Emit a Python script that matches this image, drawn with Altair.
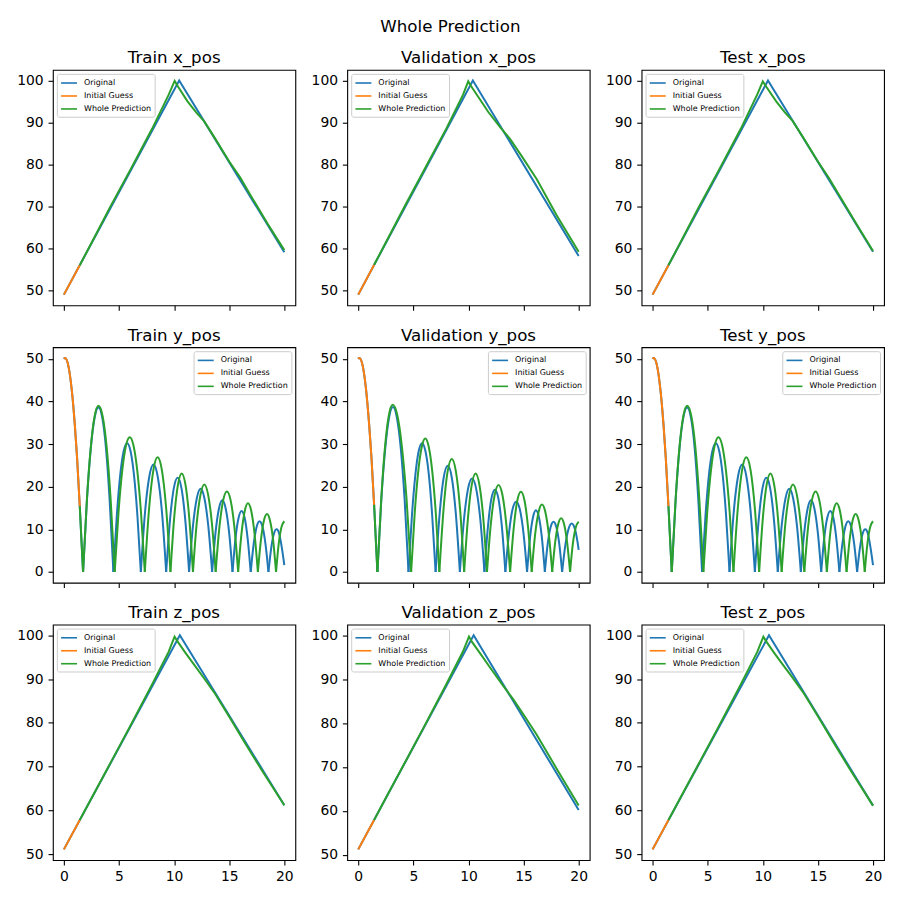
import altair as alt
import pandas as pd

FONT = "DejaVu Sans"
SERIES = ["Original", "Initial Guess", "Whole Prediction"]
COLORS = ["#1f77b4", "#ff7f0e", "#2ca02c"]
X_TICKS = [0, 5, 10, 15, 20]
POS_TICKS = [50, 60, 70, 80, 90, 100]
HEIGHT_TICKS = [0, 10, 20, 30, 40, 50]

# ---------------- x_pos ----------------
TRAIN_X_ORIG_T = [0.0, 10.46, 20.0]
TRAIN_X_ORIG_V = [49.0, 100.0, 59.1]
TRAIN_X_INIT_T = [0.0, 1.44]
TRAIN_X_INIT_V = [49.0, 56.0]
TRAIN_X_PRED_T = [1.44, 2.5, 4.2, 6.0, 8.0, 9.5, 10.05, 10.35, 11.2, 12.0, 12.7, 13.6,
                  15.0, 16.0, 17.0, 18.5, 20.0]
TRAIN_X_PRED_V = [56.0, 61.3, 69.9, 78.6, 88.5, 96.6, 99.9, 98.6, 95.1, 92.4, 90.4, 86.7,
                  80.7, 76.9, 72.4, 65.8, 59.6]

VAL_X_ORIG_T = [0.0, 10.4, 20.0]
VAL_X_ORIG_V = [49.0, 100.0, 58.2]
VAL_X_INIT_T = [0.0, 1.44]
VAL_X_INIT_V = [49.0, 56.1]
VAL_X_PRED_T = [1.44, 2.5, 4.2, 6.0, 8.0, 9.5, 9.98, 10.2, 11.2, 11.8, 12.87, 13.77,
                14.8, 16.2, 18.0, 20.0]
VAL_X_PRED_V = [56.1, 61.4, 70.0, 78.8, 88.6, 96.6, 99.8, 98.8, 94.9, 92.5, 88.9, 86.1,
                82.1, 76.5, 67.9, 59.2]

TEST_X_ORIG_T = [0.0, 10.47, 20.0]
TEST_X_ORIG_V = [49.0, 100.0, 59.2]
TEST_X_INIT_T = [0.0, 1.44]
TEST_X_INIT_V = [49.0, 56.0]
TEST_X_PRED_T = [1.44, 2.5, 4.2, 6.0, 8.0, 9.5, 10.0, 10.3, 11.2, 12.0, 12.7, 13.6,
                 15.0, 16.0, 17.0, 18.5, 20.0]
TEST_X_PRED_V = [56.0, 61.3, 69.9, 78.6, 88.5, 96.7, 99.8, 98.6, 95.1, 92.4, 90.4, 86.7,
                 80.7, 76.8, 72.4, 65.8, 59.4]

# ---------------- y_pos ----------------
TRAIN_Y_ORIG_T = [0.0, 0.1, 0.4, 0.7, 1.0, 1.2, 1.44, 1.6, 1.74,
                  2.09, 2.44, 2.79, 3.14, 3.48, 3.82, 4.15, 4.49,
                  4.80, 5.11, 5.42, 5.735, 6.05, 6.36, 6.67, 6.98,
                  7.36, 7.75, 8.13, 8.51, 8.90, 9.28,
                  9.63, 9.97, 10.32, 10.67, 11.01, 11.36,
                  11.71, 12.06, 12.40, 12.75, 13.10, 13.45,
                  13.76, 14.07, 14.37, 14.68, 14.99, 15.30,
                  15.57, 15.85, 16.12, 16.40, 16.67, 16.95,
                  17.22, 17.49, 17.75, 18.02, 18.29, 18.56,
                  18.81, 19.05, 19.30, 19.54, 19.78, 20.0]
TRAIN_Y_ORIG_V = [50.0, 50.2, 48.4, 43.0, 34.2, 26.6, 15.4, 7.0, 0.0,
                  16.9, 29.0, 36.2, 38.6, 36.2, 29.0, 16.9, 0.0,
                  13.2, 22.7, 28.3, 30.2, 28.3, 22.7, 13.2, 0.0,
                  14.0, 22.4, 25.2, 22.4, 14.0, 0.0,
                  12.3, 19.6, 22.1, 19.6, 12.3, 0.0,
                  10.8, 17.3, 19.5, 17.3, 10.8, 0.0,
                  9.3, 14.9, 16.8, 14.9, 9.3, 0.0,
                  7.9, 12.7, 14.3, 12.7, 7.9, 0.0,
                  6.6, 10.6, 11.9, 10.6, 6.6, 0.0,
                  5.6, 8.9, 10.0, 8.9, 5.6, 1.6]
TRAIN_Y_INIT_T = [0.0, 0.1, 0.4, 0.7, 1.0, 1.2, 1.44]
TRAIN_Y_INIT_V = [50.0, 50.2, 48.4, 43.0, 34.2, 26.6, 15.4]
TRAIN_Y_PRED_T = [1.44, 1.6, 1.74,
                  2.09, 2.44, 2.79, 3.14, 3.51, 3.88, 4.24, 4.61,
                  4.95, 5.29, 5.63, 5.975, 6.32, 6.66, 7.0, 7.34,
                  7.73, 8.12, 8.5, 8.89, 9.28, 9.67,
                  10.01, 10.35, 10.69, 11.03, 11.37, 11.71,
                  12.05, 12.40, 12.74, 13.08, 13.43, 13.77,
                  14.11, 14.45, 14.79, 15.13, 15.47, 15.81,
                  16.11, 16.41, 16.7, 17.0, 17.3, 17.6,
                  17.88, 18.15, 18.43, 18.7, 18.98, 19.25,
                  19.5, 19.75, 20.0]
TRAIN_Y_PRED_V = [15.4, 7.0, 0.0,
                  17.1, 29.3, 36.6, 39.0, 36.6, 29.3, 17.1, 0.0,
                  13.8, 23.7, 29.6, 31.6, 29.6, 23.7, 13.8, 0.0,
                  14.9, 23.9, 26.9, 23.9, 14.9, 0.0,
                  12.8, 20.5, 23.1, 20.5, 12.8, 0.0,
                  11.4, 18.2, 20.5, 18.2, 11.4, 0.0,
                  10.5, 16.8, 18.9, 16.8, 10.5, 0.0,
                  8.9, 14.3, 16.1, 14.3, 8.9, 0.0,
                  7.6, 12.1, 13.6, 12.1, 7.6, 0.0,
                  6.8, 10.6, 11.9]

VAL_Y_ORIG_T = [0.0, 0.1, 0.4, 0.7, 1.0, 1.2, 1.44, 1.6, 1.74,
                2.09, 2.45, 2.80, 3.15, 3.50, 3.86, 4.21, 4.56,
                4.87, 5.18, 5.48, 5.79, 6.10, 6.41, 6.71, 7.02,
                7.39, 7.75, 8.12, 8.49, 8.85, 9.22,
                9.59, 9.96, 10.33, 10.70, 11.08, 11.45,
                11.77, 12.08, 12.40, 12.72, 13.03, 13.35,
                13.68, 14.00, 14.33, 14.66, 14.99, 15.32,
                15.59, 15.86, 16.12, 16.39, 16.66, 16.93,
                17.19, 17.45, 17.72, 17.98, 18.24, 18.50,
                18.79, 19.08, 19.37, 19.66, 19.90, 20.0]
VAL_Y_ORIG_V = [50.0, 50.2, 48.4, 43.0, 34.2, 26.8, 15.75, 7.2, 0.0,
                16.9, 29.0, 36.3, 38.7, 36.3, 29.0, 16.9, 0.0,
                13.2, 22.7, 28.3, 30.2, 28.3, 22.7, 13.2, 0.0,
                13.8, 22.1, 24.9, 22.1, 13.8, 0.0,
                12.2, 19.5, 21.9, 19.5, 12.2, 0.0,
                10.7, 17.2, 19.3, 17.2, 10.7, 0.0,
                9.2, 14.7, 16.5, 14.7, 9.2, 0.0,
                8.1, 12.9, 14.5, 12.9, 8.1, 0.0,
                6.6, 10.5, 11.8, 10.5, 6.6, 0.0,
                6.3, 10.1, 11.4, 10.1, 7.0, 5.2]
VAL_Y_INIT_T = [0.0, 0.1, 0.4, 0.7, 1.0, 1.2, 1.44]
VAL_Y_INIT_V = [50.0, 50.2, 48.4, 43.0, 34.2, 26.8, 15.75]
VAL_Y_PRED_T = [1.44, 1.6, 1.74,
                2.09, 2.43, 2.78, 3.12, 3.54, 3.96, 4.38, 4.8,
                5.12, 5.44, 5.76, 6.08, 6.40, 6.72, 7.04, 7.36,
                7.74, 8.11, 8.49, 8.86, 9.24, 9.61,
                9.96, 10.30, 10.65, 10.99, 11.34, 11.68,
                12.03, 12.38, 12.73, 13.08, 13.43, 13.78,
                14.11, 14.43, 14.76, 15.09, 15.41, 15.74,
                16.05, 16.36, 16.67, 16.98, 17.29, 17.6,
                17.87, 18.14, 18.41, 18.68, 18.95, 19.22,
                19.47, 19.73, 20.0]
VAL_Y_PRED_V = [15.75, 7.2, 0.0,
                17.2, 29.4, 36.8, 39.2, 36.8, 29.4, 17.2, 0.0,
                13.7, 23.5, 29.3, 31.3, 29.3, 23.5, 13.7, 0.0,
                14.7, 23.6, 26.5, 23.6, 14.7, 0.0,
                12.8, 20.5, 23.1, 20.5, 12.8, 0.0,
                11.3, 18.1, 20.4, 18.1, 11.3, 0.0,
                10.4, 16.7, 18.8, 16.7, 10.4, 0.0,
                8.8, 14.0, 15.8, 14.0, 8.8, 0.0,
                7.0, 11.2, 12.6, 11.2, 7.0, 0.0,
                6.6, 10.4, 11.8]

# Test y_pos reads the same as Train y_pos
TEST_Y_ORIG_T, TEST_Y_ORIG_V = TRAIN_Y_ORIG_T, TRAIN_Y_ORIG_V
TEST_Y_INIT_T, TEST_Y_INIT_V = TRAIN_Y_INIT_T, TRAIN_Y_INIT_V
TEST_Y_PRED_T, TEST_Y_PRED_V = TRAIN_Y_PRED_T, TRAIN_Y_PRED_V

# ---------------- z_pos ----------------
TRAIN_Z_ORIG_T = [0.0, 10.52, 20.0]
TRAIN_Z_ORIG_V = [51.1, 100.0, 61.2]
TRAIN_Z_INIT_T = [0.0, 1.44]
TRAIN_Z_INIT_V = [51.1, 57.8]
TRAIN_Z_PRED_T = [1.44, 2.5, 4.3, 6.0, 8.0, 9.5, 10.04, 10.34, 11.03, 11.78, 12.68, 13.73,
                  15.0, 16.5, 18.0, 20.0]
TRAIN_Z_PRED_V = [57.8, 62.8, 71.2, 79.2, 88.8, 96.2, 99.7, 98.5, 96.0, 93.4, 90.3, 86.6,
                  81.4, 75.1, 69.0, 61.2]

VAL_Z_ORIG_T = [0.0, 10.47, 20.0]
VAL_Z_ORIG_V = [51.2, 100.0, 60.2]
VAL_Z_INIT_T = [0.0, 1.44]
VAL_Z_INIT_V = [51.2, 57.9]
VAL_Z_PRED_T = [1.44, 2.5, 4.3, 6.0, 8.0, 9.5, 10.05, 10.32, 11.22, 11.97, 13.17, 14.07,
                14.98, 16.18, 18.0, 20.0]
VAL_Z_PRED_V = [57.9, 62.9, 71.3, 79.3, 88.9, 96.3, 99.7, 98.5, 95.3, 92.6, 88.4, 85.4,
                82.0, 77.4, 69.6, 61.2]

TEST_Z_ORIG_T = [0.0, 10.56, 20.0]
TEST_Z_ORIG_V = [51.1, 100.0, 61.1]
TEST_Z_INIT_T = [0.0, 1.44]
TEST_Z_INIT_V = [51.1, 57.8]
TEST_Z_PRED_T = [1.44, 2.5, 4.3, 6.0, 8.0, 9.5, 10.05, 10.34, 11.03, 11.78, 12.68, 13.73,
                 15.0, 16.5, 18.0, 20.0]
TEST_Z_PRED_V = [57.8, 62.8, 71.2, 79.2, 88.8, 96.2, 99.7, 98.5, 96.0, 93.4, 90.4, 86.7,
                 81.5, 75.2, 69.0, 61.1]


def frame(ot, ov, it, iv, pt, pv):
    """Long table; each bounce arc (split at ground contacts) gets its own segment id."""
    rows = []
    for name, ts, vs in ((SERIES[0], ot, ov), (SERIES[1], it, iv), (SERIES[2], pt, pv)):
        assert len(ts) == len(vs), name
        seg = 0
        for i, (t, v) in enumerate(zip(ts, vs)):
            rows.append({"t": t, "v": v, "series": name, "seg": f"{name}-{seg}"})
            if v == 0.0 and 0 < i < len(ts) - 1:
                seg += 1
                rows.append({"t": t, "v": v, "series": name, "seg": f"{name}-{seg}"})
    return pd.DataFrame(rows)


def padded(df):
    lo, hi = float(df.v.min()), float(df.v.max())
    m = 0.05 * (hi - lo)
    return [lo - m, hi + m]


def panel(title, df, yticks, legend_orient, bottom, curve):
    color = alt.Color(
        "series:N",
        scale=alt.Scale(domain=SERIES, range=COLORS),
        legend=alt.Legend(
            title=None, orient=legend_orient, offset=4, padding=3.2,
            strokeColor="#cccccc", fillColor="rgba(255,255,255,0.8)", cornerRadius=2,
            labelFont=FONT, labelFontSize=8, labelColor="black",
            symbolType="M-1.6,0H1.6", symbolSize=100, symbolStrokeWidth=1.6,
            symbolOffset=3, labelOffset=9, rowPadding=3,
        ),
    )
    x = alt.X("t:Q", scale=alt.Scale(domain=[-1, 21], nice=False, zero=False),
              axis=alt.Axis(values=X_TICKS, labels=bottom, title=None, format="d",
                            labelFlush=False))
    y = alt.Y("v:Q", scale=alt.Scale(domain=padded(df), nice=False, zero=False),
              axis=alt.Axis(values=yticks, title=None, format="d"))
    layers = [
        alt.Chart(df).transform_filter(alt.datum.series == s)
        .mark_line(strokeWidth=2, interpolate=curve)
        .encode(x=x, y=y, color=color, detail="seg:N")
        for s in SERIES
    ]
    return alt.layer(*layers).properties(
        width=243, height=236,
        title=alt.TitleParams(title, fontSize=16.7, font=FONT, fontWeight="normal",
                              color="black", anchor="middle", frame="group",
                              offset=-10, baseline="alphabetic"),
    )


SPECS = [
    ("Train x_pos", (TRAIN_X_ORIG_T, TRAIN_X_ORIG_V, TRAIN_X_INIT_T, TRAIN_X_INIT_V, TRAIN_X_PRED_T, TRAIN_X_PRED_V), POS_TICKS, "top-left", False, "linear"),
    ("Validation x_pos", (VAL_X_ORIG_T, VAL_X_ORIG_V, VAL_X_INIT_T, VAL_X_INIT_V, VAL_X_PRED_T, VAL_X_PRED_V), POS_TICKS, "top-left", False, "linear"),
    ("Test x_pos", (TEST_X_ORIG_T, TEST_X_ORIG_V, TEST_X_INIT_T, TEST_X_INIT_V, TEST_X_PRED_T, TEST_X_PRED_V), POS_TICKS, "top-left", False, "linear"),
    ("Train y_pos", (TRAIN_Y_ORIG_T, TRAIN_Y_ORIG_V, TRAIN_Y_INIT_T, TRAIN_Y_INIT_V, TRAIN_Y_PRED_T, TRAIN_Y_PRED_V), HEIGHT_TICKS, "top-right", False, "monotone"),
    ("Validation y_pos", (VAL_Y_ORIG_T, VAL_Y_ORIG_V, VAL_Y_INIT_T, VAL_Y_INIT_V, VAL_Y_PRED_T, VAL_Y_PRED_V), HEIGHT_TICKS, "top-right", False, "monotone"),
    ("Test y_pos", (TEST_Y_ORIG_T, TEST_Y_ORIG_V, TEST_Y_INIT_T, TEST_Y_INIT_V, TEST_Y_PRED_T, TEST_Y_PRED_V), HEIGHT_TICKS, "top-right", False, "monotone"),
    ("Train z_pos", (TRAIN_Z_ORIG_T, TRAIN_Z_ORIG_V, TRAIN_Z_INIT_T, TRAIN_Z_INIT_V, TRAIN_Z_PRED_T, TRAIN_Z_PRED_V), POS_TICKS, "top-left", True, "linear"),
    ("Validation z_pos", (VAL_Z_ORIG_T, VAL_Z_ORIG_V, VAL_Z_INIT_T, VAL_Z_INIT_V, VAL_Z_PRED_T, VAL_Z_PRED_V), POS_TICKS, "top-left", True, "linear"),
    ("Test z_pos", (TEST_Z_ORIG_T, TEST_Z_ORIG_V, TEST_Z_INIT_T, TEST_Z_INIT_V, TEST_Z_PRED_T, TEST_Z_PRED_V), POS_TICKS, "top-left", True, "linear"),
]

panels = [panel(t, frame(*d), ticks, orient, bottom, curve)
          for t, d, ticks, orient, bottom, curve in SPECS]

chart = (
    alt.concat(*panels, columns=3, spacing={"row": 42, "column": 52}, bounds="flush")
    .resolve_scale(color="independent", x="independent", y="independent")
    .resolve_legend(color="independent")
    .properties(
        title=alt.TitleParams("Whole Prediction", fontSize=16.7, font=FONT,
                              fontWeight="normal", color="black", anchor="middle",
                              offset=14),
        padding={"left": 16, "top": 18, "right": 15, "bottom": 12},
        background="white",
    )
    .configure_view(stroke="black", strokeWidth=1.1)
    .configure_axis(domain=False, grid=False, ticks=True, tickColor="black",
                    tickSize=4.86, tickWidth=1.1, labelFont=FONT, labelFontSize=13.9,
                    labelColor="black", labelPadding=4.86)
)

chart.save("out.html", embed_options={"renderer": "svg", "actions": False})
